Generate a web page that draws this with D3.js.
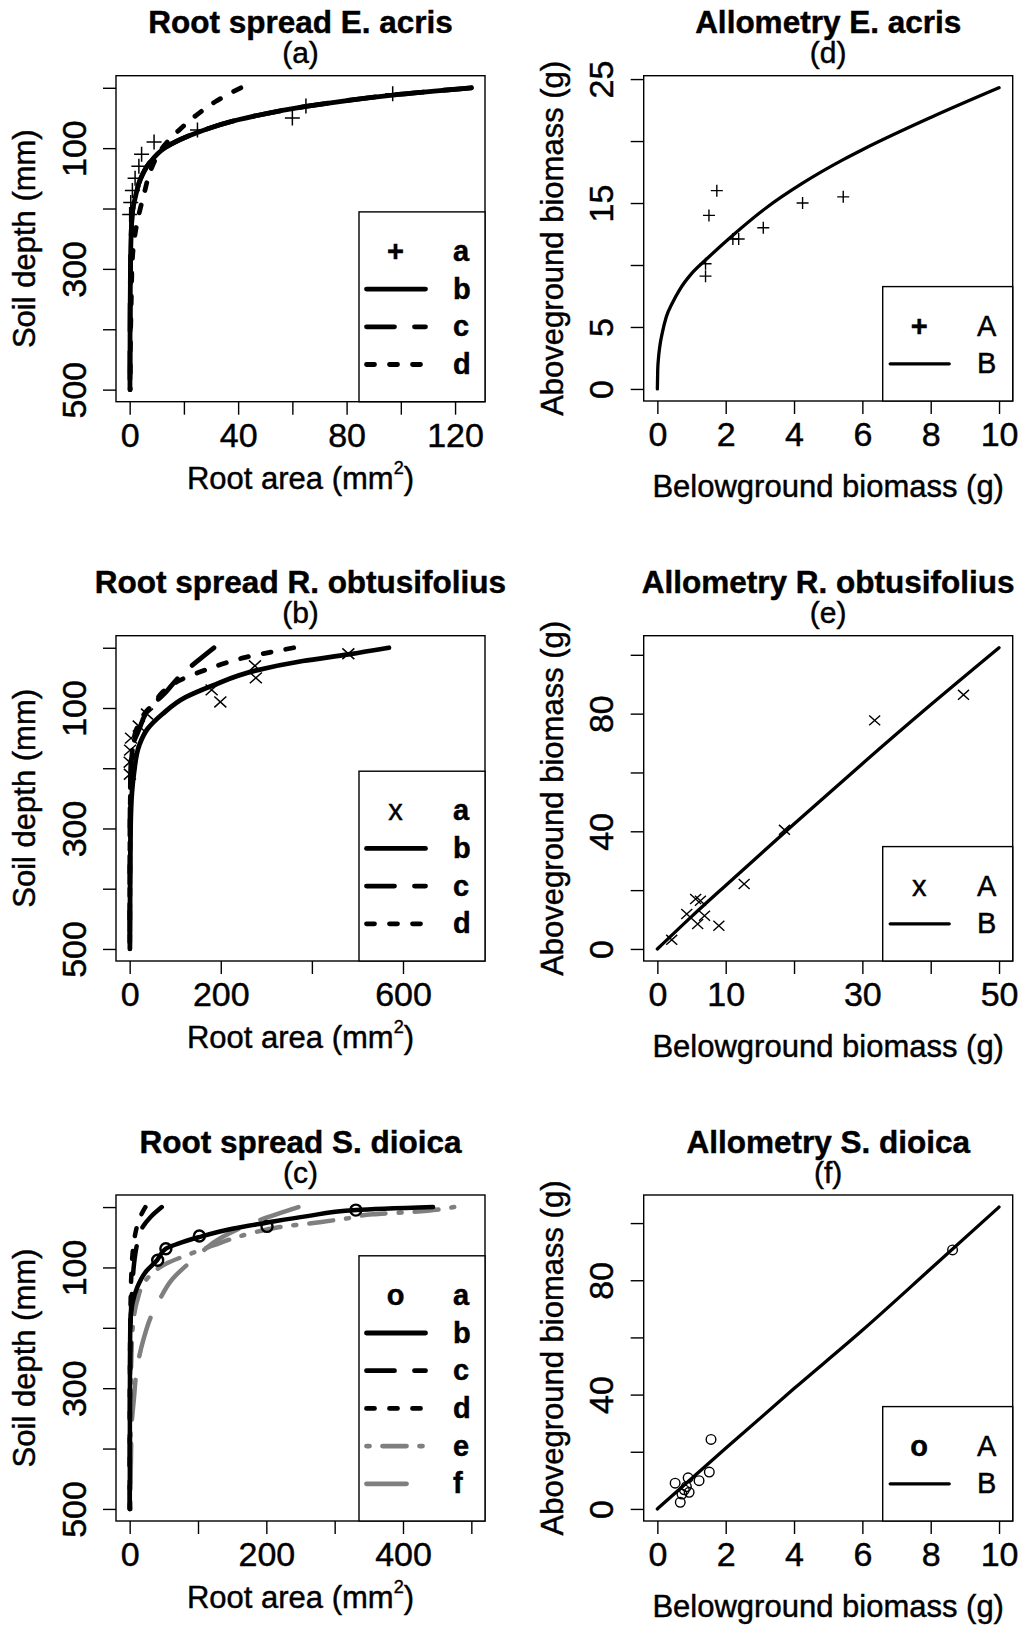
<!DOCTYPE html>
<html>
<head>
<meta charset="utf-8">
<script src="https://cdn.jsdelivr.net/npm/d3@7"></script>
<style>
  body { margin: 0; background: #fff; }
  svg text { font-family: "Liberation Sans", Arial, Helvetica, sans-serif; fill: #000; stroke: #000; stroke-width: 0.45px; }
</style>
</head>
<body>
<svg id="viz"></svg>
<script>
// ---------- values ----------
// root spread panels: [root area (mm2), soil depth (mm)]
const acrisObs = [[97, 10], [65, 30], [60, 50], [25, 70], [9, 90], [4.4, 110], [3.4, 130], [2.0, 150], [1.0, 170], [0.4, 190], [0, 210]]
const acrisB = [[126, 0], [97, 12], [65, 31], [40, 53], [25, 74], [13.2, 99], [7.1, 126], [4.0, 151], [2.2, 179], [1.0, 207], [0.5, 250], [0.3, 300], [0.15, 400], [0.1, 500]]
const acrisC = [[126, 0], [97, 12], [65, 31], [40, 53], [25, 74], [13, 99], [7, 126], [4, 151], [2.2, 179], [1, 207], [0.5, 250], [0.3, 300], [0.15, 400], [0.1, 500]]
const acrisD = [[41, 0], [32, 22], [25, 44], [18, 71], [12, 100], [7.7, 137], [5.3, 176], [3.7, 204], [2.0, 242], [1.0, 284], [0.6, 350], [0.3, 420], [0.2, 500]]

const obtObs = [[480, 10], [275, 30], [277, 50], [180, 70], [199, 90], [38, 110], [20, 130], [3, 150], [1, 170], [0, 190], [0.5, 210]]
const obtB = [[569, 0], [480, 11], [380, 22], [276, 38], [181, 63], [123, 82], [72, 110], [39, 135], [21, 162], [9.6, 207], [5, 240], [2, 300], [1, 400], [0.5, 500]]
const obtC = [[185, 0], [152, 20], [104, 52], [79, 74], [57, 90], [42, 102], [21, 135], [6, 165], [2.5, 195], [1.2, 250], [0.6, 300], [0.3, 400], [0.2, 500]]
const obtD = [[360, 0], [305, 8], [254, 16], [203, 27], [155, 40], [105, 56], [72, 74], [53, 93], [35, 107], [13, 140], [6, 170], [3, 200], [1.5, 250], [0.8, 300], [0.4, 400], [0.2, 500]]

const dioObs = [[331, 5], [201, 32], [102, 48], [53, 69], [41, 88]]
const dioB = [[444, 0], [332, 5], [260, 15], [200, 26], [150, 36], [101, 50], [70, 61], [53, 69], [40, 88], [23, 108], [11, 133], [4, 160], [1, 193], [0.5, 250], [0.3, 350], [0.2, 500]]
const dioC = [[47, 0], [31, 16], [16, 39], [10, 66], [6.4, 94], [3.9, 132], [2, 170], [1, 220], [0.5, 300], [0.2, 400], [0.1, 500]]
const dioD = [[23, 0], [19, 8], [14, 20], [9, 40], [6, 60], [4, 80], [2.5, 110], [1.5, 150], [0.8, 200], [0.4, 300], [0.2, 500]]
const dioE = [[475, 0], [415, 8], [356, 12], [317, 19], [278, 25], [220, 33], [179, 43], [121, 64], [92, 76], [53, 94], [23, 122], [11, 155], [5, 193], [2.5, 250], [1.5, 350], [1, 500]]
const dioF = [[247, 0], [189, 22], [135, 50], [94, 86], [62, 120], [43, 155], [31, 182], [20, 220], [11, 265], [6, 320], [3, 360], [1, 500]]

// allometry panels: [belowground (g), aboveground (g)]
const acrisAllo = [[1.74, 16.0], [1.51, 14.0], [2.21, 12.1], [2.38, 12.1], [3.10, 13.0], [4.25, 15.0], [5.44, 15.5], [1.41, 10.1], [1.41, 9.1]]
const acrisFit = [[0, 0], [0.01, 1.5], [0.03, 2.4], [0.07, 3.4], [0.15, 4.6], [0.26, 5.8], [0.45, 7.0], [0.65, 8.0], [1, 9.3], [1.41, 10.4], [2.21, 12.4], [3.18, 14.6], [4.25, 16.6], [5.44, 18.5], [6, 19.3], [8, 21.9], [10, 24.3]]
const obtAllo = [[2.1, 3.1], [4.3, 11.9], [5.6, 17.0], [6.3, 16.4], [6.9, 11.3], [5.9, 8.5], [9.0, 7.9], [12.7, 22.1], [18.6, 40.5], [31.8, 77.7], [44.8, 86.4]]
const obtFit = [[0, 0], [5, 11], [10, 21.6], [20, 42.5], [30, 63], [40, 83], [50, 102.4]]
const dioAllo = [[8.64, 90.6], [1.57, 24.3], [1.52, 12.9], [1.22, 9.9], [0.9, 10.9], [0.52, 9.0], [0.67, 2.3], [0.93, 5.8], [0.79, 6.7], [0.72, 5.2], [0.85, 7.8]]
const dioFit = [[0, 0], [2, 21.2], [4, 42.1], [6, 62.5], [8, 84], [10, 105.6]]

// axes
const depthTicks = [0, 100, 200, 300, 400, 500]
const depthLabels = [100, 300, 500]
const acrisAreaTicks = [0, 20, 40, 60, 80, 100, 120]
const acrisAreaLabels = [0, 40, 80, 120]
const obtAreaTicks = [0, 200, 400, 600]
const obtAreaLabels = [0, 200, 600]
const dioAreaTicks = [0, 100, 200, 300, 400, 500]
const dioAreaLabels = [0, 200, 400]
const bio10Ticks = [0, 2, 4, 6, 8, 10]
const bio50Ticks = [0, 10, 20, 30, 40, 50]
const bio50Labels = [0, 10, 30, 50]
const acrisAboveTicks = [0, 5, 10, 15, 20, 25]
const acrisAboveLabels = [0, 5, 15, 25]
const aboveTicks = [0, 20, 40, 60, 80, 100]
const aboveLabels = [0, 40, 80]

const rootKeys = ['a', 'b', 'c', 'd']
const dioKeys = ['a', 'b', 'c', 'd', 'e', 'f']
const alloKeys = ['A', 'B']

// ---------- drawing ----------
const width = 1023
const height = 1625
const svg = d3.select('#viz').attr('width', width).attr('height', height)

const lineStyle = {
  b: { color: '#000', dash: null },
  c: { color: '#000', dash: '28,20' },
  d: { color: '#000', dash: '8,15' },
  e: { color: '#7f7f7f', dash: '3,13,24,13' },
  f: { color: '#7f7f7f', dash: '40,24' }
}

const expand = ([a, b]) => [a - (b - a) * 0.04, b + (b - a) * 0.04]

function marker(sel, shape, s, sw) {
  if (shape === 'o') {
    sel.append('circle').attr('r', s).attr('fill', 'none').attr('stroke', '#000').attr('stroke-width', sw)
  } else {
    const p = shape === '+'
      ? `M${-s},0H${s}M0,${-s}V${s}`
      : `M${-s},${-s * 0.9}L${s},${s * 0.9}M${-s},${s * 0.9}L${s},${-s * 0.9}`
    sel.append('path').attr('d', p).attr('fill', 'none').attr('stroke', '#000').attr('stroke-width', sw)
  }
}

let clipId = 0
function drawPanel(cfg) {
  const box = cfg.box
  const g = svg.append('g')
  const x = d3.scaleLinear().domain(expand(cfg.xlim)).range([box.l, box.r])
  const y = d3.scaleLinear().domain(expand(cfg.ylim))
    .range(cfg.root ? [box.t, box.b] : [box.b, box.t])

  const id = 'clip' + clipId++
  g.append('clipPath').attr('id', id).append('rect')
    .attr('x', box.l).attr('y', box.t).attr('width', box.r - box.l).attr('height', box.b - box.t)
  const plot = g.append('g').attr('clip-path', `url(#${id})`)

  // curves
  cfg.curves.forEach((c) => {
    const line = d3.line().x((d) => x(d[0])).y((d) => y(d[1]))
      .curve(cfg.root ? d3.curveMonotoneY : d3.curveMonotoneX)
    const st = lineStyle[c.key] || { color: '#000', dash: null }
    plot.append('path').datum(c.data).attr('d', line)
      .attr('fill', 'none').attr('stroke', st.color)
      .attr('stroke-width', cfg.lw).attr('stroke-linecap', 'round').attr('stroke-linejoin', 'round')
      .attr('stroke-dasharray', st.dash)
  })

  // observations
  plot.selectAll('.pt').data(cfg.points).join('g')
    .attr('transform', (d) => `translate(${x(d[0])},${y(d[1])})`)
    .each(function () { marker(d3.select(this), cfg.shape, cfg.ms, cfg.msw) })

  // axes
  const xa = g.append('g').attr('transform', `translate(0,${box.b})`)
    .call(d3.axisBottom(x).tickValues(cfg.xticks).tickSize(13).tickSizeOuter(0)
      .tickFormat((d) => (cfg.xlabels.includes(d) ? d : '')))
  xa.select('.domain').remove()
  xa.selectAll('line').attr('stroke', '#000').attr('stroke-width', 1.4)
  xa.selectAll('text').attr('y', 45).attr('dy', 0).attr('font-size', 34).attr('fill', '#000')
    .style('font-family', '"Liberation Sans", Arial, sans-serif')

  const ya = g.append('g').attr('transform', `translate(${box.l},0)`)
    .call(d3.axisLeft(y).tickValues(cfg.yticks).tickSize(13).tickSizeOuter(0)
      .tickFormat((d) => (cfg.ylabels.includes(d) ? d : '')))
  ya.select('.domain').remove()
  ya.selectAll('line').attr('stroke', '#000').attr('stroke-width', 1.4)
  ya.selectAll('text').attr('x', 0).attr('y', 0).attr('dy', 0)
    .attr('transform', 'translate(-30.5,0) rotate(-90)')
    .attr('text-anchor', 'middle').attr('font-size', 34).attr('fill', '#000')
    .style('font-family', '"Liberation Sans", Arial, sans-serif')

  // box
  g.append('rect').attr('x', box.l).attr('y', box.t)
    .attr('width', box.r - box.l).attr('height', box.b - box.t)
    .attr('fill', 'none').attr('stroke', '#000').attr('stroke-width', 1.4)

  // titles
  const cx = (box.l + box.r) / 2
  g.append('text').attr('x', cx).attr('y', box.t - 42.4).attr('text-anchor', 'middle')
    .attr('font-size', 31.5).attr('font-weight', 'bold').text(cfg.title)
  g.append('text').attr('x', cx).attr('y', box.t - 12.4).attr('text-anchor', 'middle')
    .attr('font-size', 30).text(cfg.sub)

  // axis titles
  const xt = g.append('text').attr('x', cx).attr('y', box.b + (cfg.root ? 87 : 95.5))
    .attr('text-anchor', 'middle').attr('font-size', 31)
  if (cfg.root) {
    xt.append('tspan').text('Root area (mm')
    xt.append('tspan').attr('font-size', 18).attr('dy', -15).text('2')
    xt.append('tspan').attr('dy', 15).text(')')
  } else {
    xt.text('Belowground biomass (g)')
  }
  g.append('text')
    .attr('transform', `translate(${box.l - 81},${(box.t + box.b) / 2}) rotate(-90)`)
    .attr('text-anchor', 'middle').attr('font-size', 31)
    .text(cfg.root ? 'Soil depth (mm)' : 'Aboveground biomass (g)')

  // legend
  const lg = cfg.legend
  const n = lg.keys.length
  const step = 37.7
  const top = box.b - (n * step + 39)
  const lx = lg.left
  g.append('rect').attr('x', lx).attr('y', top).attr('width', box.r - lx).attr('height', box.b - top)
    .attr('fill', '#fff').attr('stroke', '#000').attr('stroke-width', 1.4)
  lg.keys.forEach((k, i) => {
    const base = top + 49 + i * step
    if (i === 0) {
      g.append('text').attr('x', lx + 36.5).attr('y', base).attr('text-anchor', 'middle')
        .attr('font-size', 29).attr('font-weight', cfg.shape === 'x' ? 'normal' : 'bold').text(cfg.shape)
    } else {
      const st = cfg.root ? lineStyle[k] : { color: '#000', dash: null }
      g.append('line').attr('x1', lx + 7.5).attr('x2', lx + 66.5)
        .attr('y1', base - 9.5).attr('y2', base - 9.5)
        .attr('stroke', st.color).attr('stroke-width', cfg.root ? 4.8 : 3.3)
        .attr('stroke-linecap', 'round').attr('stroke-dasharray', st.dash)
    }
    g.append('text').attr('x', lx + (cfg.root ? 94 : 94.3)).attr('y', base)
      .attr('font-size', 29).attr('font-weight', cfg.root ? 'bold' : 'normal').text(k)
  })
}

const leftBox = (t, b) => ({ l: 116, r: 485, t, b })
const rightBox = (t, b) => ({ l: 643.7, r: 1012.7, t, b })

drawPanel({
  root: true, box: leftBox(75.7, 401.7), xlim: [0, 126], ylim: [0, 500],
  xticks: acrisAreaTicks, xlabels: acrisAreaLabels, yticks: depthTicks, ylabels: depthLabels,
  title: 'Root spread E. acris', sub: '(a)', lw: 4.8,
  curves: [{ key: 'd', data: acrisD }, { key: 'c', data: acrisC }, { key: 'b', data: acrisB }],
  points: acrisObs, shape: '+', ms: 7.5, msw: 1.5,
  legend: { left: 359, keys: rootKeys }
})
drawPanel({
  root: true, box: leftBox(635.7, 961), xlim: [0, 750], ylim: [0, 500],
  xticks: obtAreaTicks, xlabels: obtAreaLabels, yticks: depthTicks, ylabels: depthLabels,
  title: 'Root spread R. obtusifolius', sub: '(b)', lw: 4.8,
  curves: [{ key: 'd', data: obtD }, { key: 'c', data: obtC }, { key: 'b', data: obtB }],
  points: obtObs, shape: 'x', ms: 6, msw: 1.5,
  legend: { left: 359, keys: rootKeys }
})
drawPanel({
  root: true, box: leftBox(1195, 1521), xlim: [0, 500], ylim: [0, 500],
  xticks: dioAreaTicks, xlabels: dioAreaLabels, yticks: depthTicks, ylabels: depthLabels,
  title: 'Root spread S. dioica', sub: '(c)', lw: 4.5,
  curves: [{ key: 'f', data: dioF }, { key: 'e', data: dioE }, { key: 'd', data: dioD }, { key: 'c', data: dioC }, { key: 'b', data: dioB }],
  points: dioObs, shape: 'o', ms: 5.5, msw: 2.4,
  legend: { left: 359, keys: dioKeys }
})
drawPanel({
  root: false, box: rightBox(75.7, 401), xlim: [0, 10], ylim: [0, 24.3],
  xticks: bio10Ticks, xlabels: bio10Ticks, yticks: acrisAboveTicks, ylabels: acrisAboveLabels,
  title: 'Allometry E. acris', sub: '(d)', lw: 3.3,
  curves: [{ key: 'B', data: acrisFit }],
  points: acrisAllo, shape: '+', ms: 6, msw: 1.4,
  legend: { left: 882.7, keys: alloKeys }
})
drawPanel({
  root: false, box: rightBox(635.7, 961), xlim: [0, 50], ylim: [0, 102.4],
  xticks: bio50Ticks, xlabels: bio50Labels, yticks: aboveTicks, ylabels: aboveLabels,
  title: 'Allometry R. obtusifolius', sub: '(e)', lw: 3.3,
  curves: [{ key: 'B', data: obtFit }],
  points: obtAllo, shape: 'x', ms: 5.5, msw: 1.4,
  legend: { left: 882.7, keys: alloKeys }
})
drawPanel({
  root: false, box: rightBox(1195, 1521), xlim: [0, 10], ylim: [0, 105.6],
  xticks: bio10Ticks, xlabels: bio10Ticks, yticks: aboveTicks, ylabels: aboveLabels,
  title: 'Allometry S. dioica', sub: '(f)', lw: 3.3,
  curves: [{ key: 'B', data: dioFit }],
  points: dioAllo, shape: 'o', ms: 4.8, msw: 1.4,
  legend: { left: 882.7, keys: alloKeys }
})
</script>
</body>
</html>
